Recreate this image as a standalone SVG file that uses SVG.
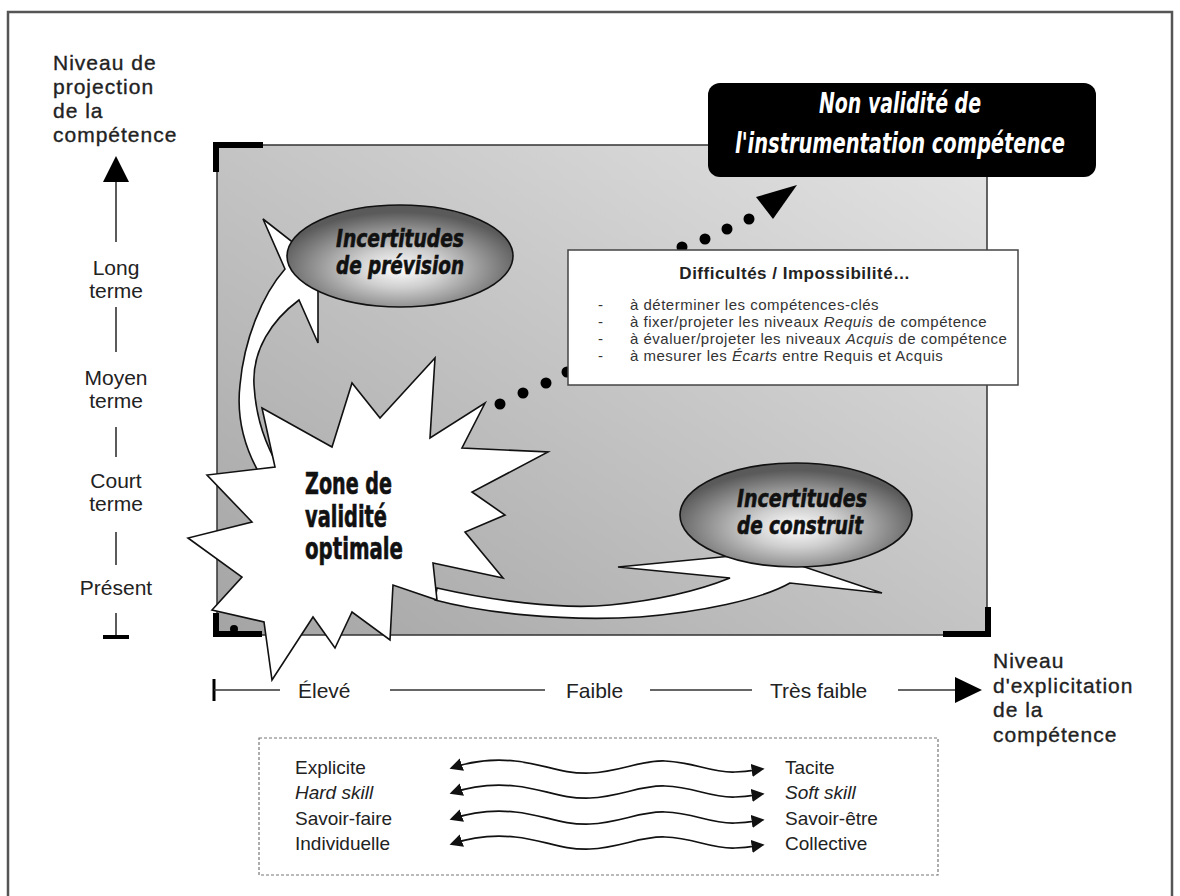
<svg xmlns="http://www.w3.org/2000/svg" width="1180" height="896" viewBox="0 0 1180 896">
<defs>
<style>
.lbl{font-family:"Liberation Sans",Arial,sans-serif;fill:#222;}
.ax{font-size:21px;text-anchor:middle;}
.ttl{font-size:21px;letter-spacing:1px;stroke:#222;stroke-width:0.35px;}
.row{font-size:19px;}
.cond{font-family:"Liberation Sans Narrow","DejaVu Sans Condensed","Liberation Sans",sans-serif;font-weight:bold;}
.ell{fill:url(#ellg);stroke:#111;stroke-width:1.6;}
.wht{fill:#fff;stroke:#111;stroke-width:1.6;stroke-linejoin:miter;}
.tick{stroke:#333;stroke-width:1.6;fill:none;}
.brk{stroke:#000;stroke-width:6;fill:none;stroke-linecap:butt;}
.dot{fill:#000;}
.item{font-size:15px;letter-spacing:0.5px;fill:#333;}
</style>
<linearGradient id="bg" x1="0" y1="1" x2="1" y2="0">
<stop offset="0" stop-color="#a4a4a4"/>
<stop offset="1" stop-color="#e4e4e4"/>
</linearGradient>
<radialGradient id="ellg" cx="0.5" cy="0.62" r="0.55">
<stop offset="0" stop-color="#ffffff"/>
<stop offset="0.35" stop-color="#cfcfcf"/>
<stop offset="1" stop-color="#5a5a5a"/>
</radialGradient>
<marker id="ah" viewBox="0 0 10 10" refX="8" refY="5" markerWidth="13" markerHeight="13" markerUnits="userSpaceOnUse" orient="auto-start-reverse">
<path d="M0,0 L10,5 L0,10 Z" fill="#111"/>
</marker>
<path id="wave" d="M 452,1 C 475,-7 495,-8 515,-6 C 545,-3 560,7 590,6 C 620,5 640,-7 665,-6 C 695,-5 710,6 735,5 C 748,5 755,3 762,2" fill="none" stroke="#111" stroke-width="1.7" marker-start="url(#ah)" marker-end="url(#ah)"/>
</defs>

<rect x="0" y="0" width="1180" height="896" fill="#fff"/>
<rect x="8" y="12" width="1164" height="900" fill="none" stroke="#555" stroke-width="2.5"/>

<g id="field">
<rect x="217" y="145" width="770" height="490" fill="url(#bg)" stroke="#333" stroke-width="1.5"/>
<path class="brk" d="M263,145 H216 V172"/>
<path class="brk" d="M216,613 V634 H262"/>
<circle cx="234" cy="629" r="4" fill="#000"/>
<path class="brk" d="M943,634 H988 V607"/>
</g>

<g id="axis-y">
<text class="lbl ttl" x="53" y="70">Niveau de</text>
<text class="lbl ttl" x="53" y="94">projection</text>
<text class="lbl ttl" x="53" y="118">de la</text>
<text class="lbl ttl" x="53" y="142">compétence</text>
<line class="tick" x1="116" y1="242" x2="116" y2="180"/>
<polygon points="116,156 103,182 129,182" fill="#000"/>
<text class="lbl ax" x="116" y="275">Long</text>
<text class="lbl ax" x="116" y="298">terme</text>
<line class="tick" x1="116" y1="307" x2="116" y2="352"/>
<text class="lbl ax" x="116" y="385">Moyen</text>
<text class="lbl ax" x="116" y="408">terme</text>
<line class="tick" x1="116" y1="427" x2="116" y2="457"/>
<text class="lbl ax" x="116" y="488">Court</text>
<text class="lbl ax" x="116" y="511">terme</text>
<line class="tick" x1="116" y1="532" x2="116" y2="565"/>
<text class="lbl ax" x="116" y="595">Présent</text>
<line class="tick" x1="116" y1="613" x2="116" y2="636"/>
<line x1="103" y1="637" x2="129" y2="637" stroke="#000" stroke-width="4"/>
</g>

<g id="axis-x">
<line x1="214" y1="679" x2="214" y2="701" stroke="#000" stroke-width="3"/>
<line class="tick" x1="214" y1="690" x2="280" y2="690"/>
<text class="lbl" x="298" y="698" font-size="21">Élevé</text>
<line class="tick" x1="390" y1="690" x2="545" y2="690"/>
<text class="lbl" x="566" y="698" font-size="21">Faible</text>
<line class="tick" x1="650" y1="690" x2="752" y2="690"/>
<text class="lbl" x="770" y="698" font-size="21">Très faible</text>
<line class="tick" x1="898" y1="690" x2="958" y2="690"/>
<polygon points="982,690 955,677 955,703" fill="#000"/>
<text class="lbl ttl" x="993" y="668">Niveau</text>
<text class="lbl ttl" x="993" y="693">d'explicitation</text>
<text class="lbl ttl" x="993" y="717">de la</text>
<text class="lbl ttl" x="993" y="742">compétence</text>
</g>

<g id="arrow-prevision">
<path class="wht" d="M263,219 L318,262 L318,343 L299,300 C272,320 252,350 254,385 C256,420 266,445 280,470 L262,478 C245,450 236,420 240,385 C244,340 262,295 285,269 Z"/>
</g>
<g id="incertitudes-prevision">
<ellipse class="ell" cx="400" cy="256" rx="113" ry="51"/>
<text class="cond" x="400" y="247" font-size="25" font-style="italic" text-anchor="middle" textLength="128" lengthAdjust="spacingAndGlyphs" fill="#111" stroke="#111" stroke-width="0.6">Incertitudes</text>
<text class="cond" x="400" y="274" font-size="25" font-style="italic" text-anchor="middle" textLength="128" lengthAdjust="spacingAndGlyphs" fill="#111" stroke="#111" stroke-width="0.6">de prévision</text>
</g>

<g id="arrow-construit">
<path class="wht" d="M618,567 L763,553 L882,593 L790,583 C760,600 700,612 640,617 C560,622 480,612 435,600 L437,588 C490,600 560,610 610,605 C660,600 700,590 730,578 Z"/>
</g>
<g id="incertitudes-construit">
<ellipse class="ell" cx="796" cy="515" rx="116" ry="52"/>
<text class="cond" x="802" y="507" font-size="25" font-style="italic" text-anchor="middle" textLength="130" lengthAdjust="spacingAndGlyphs" fill="#111" stroke="#111" stroke-width="0.6">Incertitudes</text>
<text class="cond" x="800" y="534" font-size="25" font-style="italic" text-anchor="middle" textLength="126" lengthAdjust="spacingAndGlyphs" fill="#111" stroke="#111" stroke-width="0.6">de construit</text>
</g>

<g id="zone-validite">
<polygon class="wht" points="262,408 332,447 352,383 380,418 435,358 430,438 485,403 462,448 548,452 472,492 505,515 465,532 503,578 433,563 437,600 393,585 390,640 352,612 335,648 313,617 272,680 264,622 212,610 242,577 188,538 252,522 207,475 275,467"/>
<text class="cond" x="305" y="494" font-size="30" textLength="87" lengthAdjust="spacingAndGlyphs" fill="#111" stroke="#111" stroke-width="0.6">Zone de</text>
<text class="cond" x="305" y="527" font-size="30" textLength="82" lengthAdjust="spacingAndGlyphs" fill="#111" stroke="#111" stroke-width="0.6">validité</text>
<text class="cond" x="305" y="559" font-size="30" textLength="98" lengthAdjust="spacingAndGlyphs" fill="#111" stroke="#111" stroke-width="0.6">optimale</text>
</g>

<g id="connectors">
<circle class="dot" cx="500" cy="404" r="5.5"/>
<circle class="dot" cx="523" cy="393" r="5.5"/>
<circle class="dot" cx="546" cy="383" r="5.5"/>
<circle class="dot" cx="567" cy="372" r="5.5"/>
<circle class="dot" cx="682" cy="247" r="5.5"/>
<circle class="dot" cx="705" cy="239" r="5.5"/>
<circle class="dot" cx="727" cy="229" r="5.5"/>
<circle class="dot" cx="749" cy="219" r="5.5"/>
<polygon points="797,185 756,197 773,219" fill="#000"/>
<use href="#wave" transform="translate(0,767)"/>
<use href="#wave" transform="translate(0,792)"/>
<use href="#wave" transform="translate(0,818)"/>
<use href="#wave" transform="translate(0,843)"/>
</g>

<g id="difficultes">
<rect x="568" y="250" width="450" height="135" fill="#fff" stroke="#444" stroke-width="1.5"/>
<text class="lbl" x="795" y="279" font-size="17" font-weight="bold" letter-spacing="0.5" text-anchor="middle">Difficultés / Impossibilité…</text>
<text class="lbl item" x="598" y="310">-</text>
<text class="lbl item" x="630" y="310">à déterminer les compétences-clés</text>
<text class="lbl item" x="598" y="327">-</text>
<text class="lbl item" x="630" y="327">à fixer/projeter les niveaux <tspan font-style="italic">Requis</tspan> de compétence</text>
<text class="lbl item" x="598" y="344">-</text>
<text class="lbl item" x="630" y="344">à évaluer/projeter les niveaux <tspan font-style="italic">Acquis</tspan> de compétence</text>
<text class="lbl item" x="598" y="361">-</text>
<text class="lbl item" x="630" y="361">à mesurer les <tspan font-style="italic">Écarts</tspan> entre Requis et Acquis</text>
</g>

<g id="non-validite">
<rect x="708" y="83" width="388" height="94" rx="12" fill="#000"/>
<text class="cond" x="900" y="113" font-size="28" font-style="italic" text-anchor="middle" textLength="162" lengthAdjust="spacingAndGlyphs" fill="#fff">Non validité de</text>
<text class="cond" x="900" y="153" font-size="28" font-style="italic" text-anchor="middle" textLength="330" lengthAdjust="spacingAndGlyphs" fill="#fff">l'instrumentation compétence</text>
</g>

<g id="dimensions">
<rect x="259" y="738" width="679" height="137" fill="none" stroke="#777" stroke-width="1.2" stroke-dasharray="3 2"/>
<text class="lbl row" x="295" y="774">Explicite</text>
<text class="lbl row" x="295" y="799" font-style="italic">Hard skill</text>
<text class="lbl row" x="295" y="825">Savoir-faire</text>
<text class="lbl row" x="295" y="850">Individuelle</text>
<text class="lbl row" x="785" y="774">Tacite</text>
<text class="lbl row" x="785" y="799" font-style="italic">Soft skill</text>
<text class="lbl row" x="785" y="825">Savoir-être</text>
<text class="lbl row" x="785" y="850">Collective</text>
</g>
</svg>
